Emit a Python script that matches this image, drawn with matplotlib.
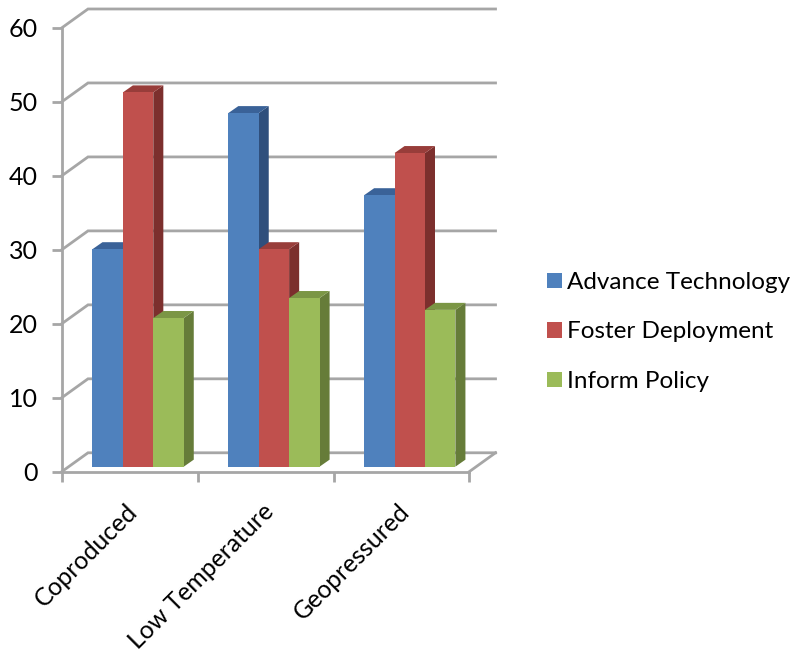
import numpy as np
import matplotlib
matplotlib.use('Agg')
import matplotlib.pyplot as plt
from matplotlib.patches import Polygon, Patch
from matplotlib.transforms import ScaledTranslation

plt.rcParams['font.family'] = ['Lato', 'DejaVu Sans']

categories = ['Coproduced', 'Low Temperature', 'Geopressured']
advance = [29.4, 47.8, 36.7]
foster = [50.6, 29.4, 42.4]
inform = [20.1, 22.8, 21.2]
series_names = ['Advance Technology', 'Foster Deployment', 'Inform Policy']
yticks = [0, 10, 20, 30, 40, 50, 60]

front_colors = ['#4f81bd', '#c0504d', '#9bbb59']
top_colors = ['#3a6298', '#983d3a', '#7b9645']
side_colors = ['#2f4f7c', '#7c2f2d', '#667c39']
grid_color = '#a6a6a6'

# oblique projection, in axis units
wall_dx, wall_dy = 0.1915, 2.53
base_dx, base_dy = 0.05, 0.65
bar_dx, bar_dy = 0.074, 0.95
bar_w = 0.224

W, H = 794, 654
fig = plt.figure(figsize=(W / 100, H / 100), dpi=100)
ax = fig.add_axes([62 / W, 1 - 471.5 / H, 407.5 / W, 443.8 / H])
ax.set_xlim(0, 3)
ax.set_ylim(0, 60)
ax.patch.set_visible(False)

for s in ['top', 'right']:
    ax.spines[s].set_visible(False)
for s in ['left', 'bottom']:
    ax.spines[s].set_color(grid_color)
    ax.spines[s].set_linewidth(2.0)

# back wall gridlines and floor
for v in yticks:
    ax.plot([0, wall_dx, 3 + wall_dx], [v, v + wall_dy, v + wall_dy],
            color=grid_color, lw=2.0, clip_on=False, solid_joinstyle='miter', zorder=1)
ax.plot([3, 3 + wall_dx], [0, wall_dy], color=grid_color, lw=2.0, clip_on=False, zorder=1)

# bars, left to right so each front face covers the previous side
x = np.arange(len(categories)) + 0.5 + base_dx - bar_dx / 2 + 0.047
z = 2
for j, vals in enumerate([advance, foster, inform]):
    pos = x + (j - 1) * bar_w
    for xi, v in zip(pos, vals):
        x0, x1 = xi - bar_w / 2, xi + bar_w / 2
        y0, y1 = base_dy, v + base_dy
        side = [(x1, y0), (x1 + bar_dx, y0 + bar_dy), (x1 + bar_dx, y1 + bar_dy), (x1, y1)]
        top = [(x0, y1), (x0 + bar_dx, y1 + bar_dy), (x1 + bar_dx, y1 + bar_dy), (x1, y1)]
        ax.add_patch(Polygon(side, fc=side_colors[j], ec='none', clip_on=False, zorder=z))
        ax.add_patch(Polygon(top, fc=top_colors[j], ec='none', clip_on=False, zorder=z))
    ax.bar(pos, vals, bar_w, bottom=base_dy, color=front_colors[j], clip_on=False, zorder=z + 1)
    z += 2

ax.set_yticks(yticks)
ax.tick_params(axis='y', length=7, width=2, color=grid_color, pad=10.5, labelsize=18)
ax.set_xticks([0, 1, 2, 3])
ax.set_xticklabels([])
ax.tick_params(axis='x', which='major', length=7, width=2, color=grid_color)
ax.set_xticks([0.5, 1.5, 2.5], minor=True)
labels = ax.set_xticklabels(categories, minor=True, rotation=45, ha='right',
                            rotation_mode='anchor', fontsize=17.8)
ax.tick_params(axis='x', which='minor', length=0, pad=20.5)
nudge = ScaledTranslation(-4 / 100, 0, fig.dpi_scale_trans)
for lab in labels:
    lab.set_transform(lab.get_transform() + nudge)

handles = [Patch(fc=c, ec='none') for c in front_colors]
fig.legend(handles, series_names, loc='center left', bbox_to_anchor=(547 / W, 1 - 332 / H),
           frameon=False, fontsize=17.5, handlelength=0.62, handleheight=0.62,
           handletextpad=0.2, labelspacing=1.17, borderpad=0, borderaxespad=0)

fig.savefig('out.png', dpi=100)
